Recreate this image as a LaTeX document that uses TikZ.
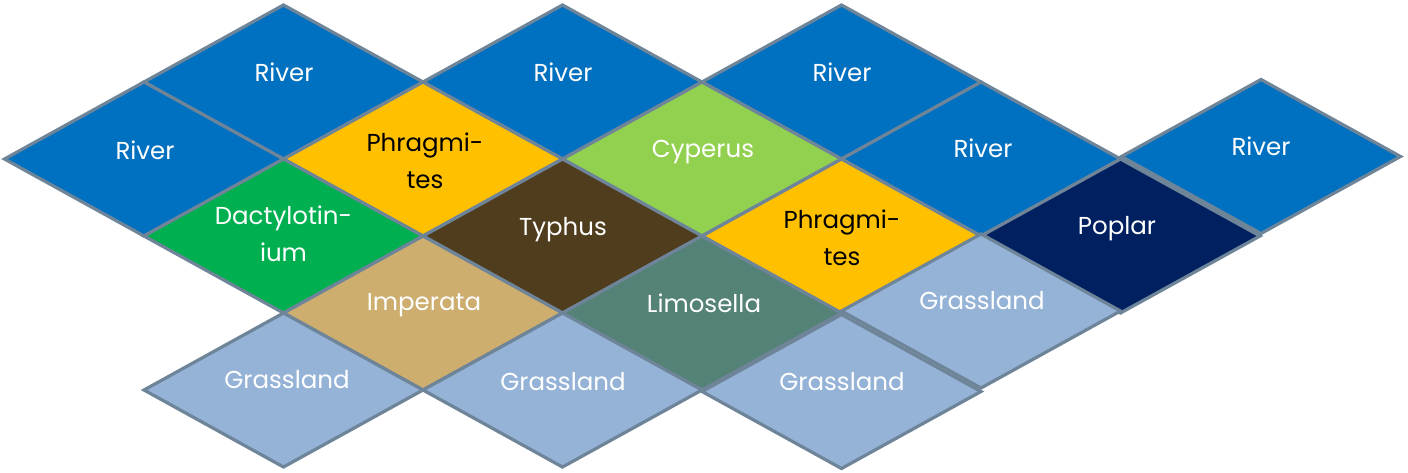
\documentclass[tikz,border=0pt]{standalone}
\usepackage{fontspec}
\setmainfont{Poppins}
\definecolor{edge}{RGB}{110,132,153}
\definecolor{river}{HTML}{0070C0}
\definecolor{phrag}{HTML}{FFC000}
\definecolor{cyper}{HTML}{92D050}
\definecolor{dacty}{HTML}{00B050}
\definecolor{typhus}{HTML}{4F3D1E}
\definecolor{imper}{HTML}{CDAE6F}
\definecolor{limo}{HTML}{548276}
\definecolor{grass}{HTML}{95B3D7}
\definecolor{poplar}{HTML}{002060}
\newcommand\mytile[4]{%
  \coordinate (#1) at (#2,#3);
  \path[tile, fill=#4] ({#2-139.5},#3) -- (#2,{#3-77}) -- ({#2+139.5},#3) -- (#2,{#3+77}) -- cycle;}
\begin{document}
\begin{tikzpicture}[x=1pt,y=-1pt,
  tile/.style={draw=edge, line width=3.2pt, line join=miter},
  lbl/.style={anchor=base, font=\fontsize{24.5}{37}\selectfont, text=white, inner sep=0pt, align=center},
  dark/.style={lbl, text=black}]
\useasboundingbox (0,0) rectangle (1408,472);
% row 1
\mytile{r1a}{283.5}{82}{river}
\mytile{r1b}{562.5}{82}{river}
\mytile{r1c}{841.5}{82}{river}
% row 2
\mytile{r2a}{144}{159}{river}
\mytile{r2b}{423}{159}{phrag}
\mytile{r2c}{702}{159}{cyper}
\mytile{r2d}{981}{159}{river}
% row 3
\mytile{r3a}{283.5}{236}{dacty}
\mytile{r3b}{562.5}{236}{typhus}
\mytile{r3c}{841.5}{236}{phrag}
\mytile{r3d}{1120.5}{236}{poplar}
\mytile{r2e}{1261}{156.5}{river}
% row 4
\mytile{r4a}{423}{313}{imper}
\mytile{r4b}{702}{313}{limo}
% row 5
\mytile{r5a}{283.5}{390}{grass}
\mytile{r5b}{562.5}{390}{grass}
\mytile{r5c}{841.5}{391.5}{grass}
\mytile{r4c}{981}{311}{grass}
% labels
\node[lbl] (t1a) at (284,81) {River};
\node[lbl] (t1b) at (563,81) {River};
\node[lbl] (t1c) at (842,81) {River};
\node[lbl] (t2a) at (145,159) {River};
\node[dark] (t2b) at (425,188) {Phragmi-\\tes};
\node[lbl] (t2c) at (703,157) {Cyperus};
\node[lbl] (t2d) at (983,157) {River};
\node[lbl] (t2e) at (1261,155) {River};
\node[lbl] (t3a) at (283.5,261) {Dactylotin-\\ium};
\node[lbl] (t3b) at (563,235) {Typhus};
\node[dark] (t3c) at (842,265) {Phragmi-\\tes};
\node[lbl] (t3d) at (1117,234) {Poplar};
\node[lbl] (t4a) at (424,310) {Imperata};
\node[lbl] (t4b) at (704,312) {Limosella};
\node[lbl] (t4c) at (982,309) {Grassland};
\node[lbl] (t5a) at (287,388) {Grassland};
\node[lbl] (t5b) at (563,390) {Grassland};
\node[lbl] (t5c) at (842,390) {Grassland};
\end{tikzpicture}
\end{document}
